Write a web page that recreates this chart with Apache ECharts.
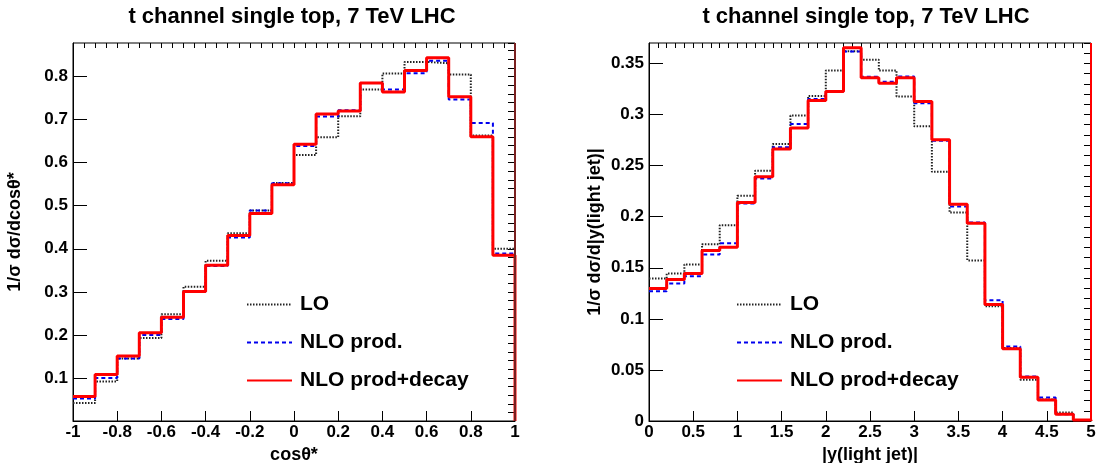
<!DOCTYPE html>
<html>
<head>
<meta charset="utf-8">
<script src="https://cdn.jsdelivr.net/npm/echarts@6/dist/echarts.min.js"></script>
<style>
html,body{margin:0;padding:0;background:#fff;}
#chart{width:1096px;height:463px;}
</style>
</head>
<body>
<div id="chart"></div>
<script>
// ---- Data ----
const seriesNames = ['LO', 'NLO prod.', 'NLO prod+decay'];
const titleText = 't channel single top, 7 TeV LHC';

// Left panel: cos(theta*) bins
const cosEdges = [-1, -0.9, -0.8, -0.7, -0.6, -0.5, -0.4, -0.3, -0.2, -0.1, 0, 0.1, 0.2, 0.3, 0.4, 0.5, 0.6, 0.7, 0.8, 0.9, 1];
const cosLO     = [0.042, 0.092, 0.145, 0.193, 0.248, 0.312, 0.372, 0.436, 0.489, 0.553, 0.618, 0.659, 0.708, 0.770, 0.807, 0.834, 0.831, 0.805, 0.663, 0.400];
const cosNLO    = [0.052, 0.100, 0.145, 0.200, 0.237, 0.300, 0.360, 0.426, 0.489, 0.552, 0.639, 0.707, 0.722, 0.785, 0.770, 0.808, 0.837, 0.747, 0.692, 0.389];
const cosNLOdec = [0.057, 0.108, 0.151, 0.205, 0.241, 0.301, 0.362, 0.431, 0.482, 0.549, 0.643, 0.713, 0.720, 0.785, 0.764, 0.814, 0.844, 0.753, 0.660, 0.385];

// Right panel: |y(light jet)| bins
const yEdges = [0, 0.2, 0.4, 0.6, 0.8, 1.0, 1.2, 1.4, 1.6, 1.8, 2.0, 2.2, 2.4, 2.6, 2.8, 3.0, 3.2, 3.4, 3.6, 3.8, 4.0, 4.2, 4.4, 4.6, 4.8, 5.0];
const yLO     = [0.1395, 0.1444, 0.1532, 0.1729, 0.1916, 0.2204, 0.2449, 0.2711, 0.2990, 0.3180, 0.3430, 0.3620, 0.3536, 0.3430, 0.3176, 0.2885, 0.2439, 0.2040, 0.1572, 0.1123, 0.0715, 0.0403, 0.0210, 0.0082, 0.0010];
const yNLO    = [0.1270, 0.1346, 0.1418, 0.1630, 0.1739, 0.2128, 0.2374, 0.2679, 0.2908, 0.3153, 0.3225, 0.3618, 0.3370, 0.3320, 0.3373, 0.3110, 0.2744, 0.2099, 0.1942, 0.1182, 0.0730, 0.0436, 0.0229, 0.0066, 0.0010];
const yNLOdec = [0.1297, 0.1385, 0.1444, 0.1670, 0.1700, 0.2138, 0.2390, 0.2662, 0.2868, 0.3137, 0.3225, 0.3654, 0.3360, 0.3307, 0.3360, 0.3127, 0.2754, 0.2122, 0.1935, 0.1140, 0.0707, 0.0429, 0.0206, 0.0066, 0.0010];

// ---- Build ----
const FONT = '"Liberation Sans", Arial, Helvetica, sans-serif';

function histData(edges, vals) {
  const d = [];
  for (let i = 0; i < vals.length; i++) d.push([edges[i], vals[i]]);
  d.push([edges[edges.length - 1], vals[vals.length - 1]]);
  d.push([edges[edges.length - 1], 0]);
  return d;
}

const styles = [
  { color: '#222', width: 2, type: [1.5, 1.5] },
  { color: '#0000ee', width: 2, type: [4, 3] },
  { color: '#ff0000', width: 3, type: 'solid' }
];

function mkSeries(gridIdx, edges, arrs, edgeColor) {
  return arrs.map((vals, k) => {
    const s = {
      name: seriesNames[k],
      type: 'line',
      step: 'end',
      xAxisIndex: gridIdx * 2,
      yAxisIndex: gridIdx * 2,
      symbol: 'none',
      animation: false,
      lineStyle: { color: styles[k].color, width: styles[k].width, type: styles[k].type },
      itemStyle: { color: styles[k].color },
      data: histData(edges, vals),
      z: 2 + k
    };
    if (k === 2) {
      s.markLine = {
        silent: true, symbol: 'none', animation: false,
        label: { show: false },
        lineStyle: { color: edgeColor, width: 2, type: 'solid' },
        data: [{ xAxis: edges[edges.length - 1] }]
      };
    }
    return s;
  });
}

const tickLabel = { fontFamily: FONT, fontWeight: 'bold', fontSize: 17, color: '#000' };

function mainX(gridIdx, min, max, interval, fmt, name) {
  return {
    type: 'value', gridIndex: gridIdx, min, max, interval,
    axisLine: { show: true, onZero: false, lineStyle: { color: '#000', width: 1 } },
    axisTick: { show: true, inside: true, length: 10, lineStyle: { color: '#000' } },
    axisLabel: Object.assign({ margin: 3, formatter: fmt }, tickLabel),
    splitLine: { show: false },
    name, nameLocation: 'middle', nameGap: 17,
    nameTextStyle: { fontFamily: FONT, fontWeight: 'bold', fontSize: 18, color: '#000' }
  };
}
function minorX(gridIdx, min, max, interval) {
  return {
    type: 'value', gridIndex: gridIdx, min, max, interval,
    axisLine: { show: false, onZero: false },
    axisTick: { show: true, inside: true, length: 5, lineStyle: { color: '#000' } },
    axisLabel: { show: false }, splitLine: { show: false }
  };
}
function mainY(gridIdx, min, max, interval, fmt, name, showMin, nameGap) {
  return {
    type: 'value', gridIndex: gridIdx, min, max, interval,
    axisLine: { show: true, onZero: false, lineStyle: { color: '#000', width: 1 } },
    axisTick: { show: true, inside: true, length: 14, lineStyle: { color: '#000' } },
    axisLabel: Object.assign({ margin: 5, formatter: fmt, showMinLabel: showMin, showMaxLabel: false }, tickLabel),
    splitLine: { show: false },
    name, nameLocation: 'middle', nameGap,
    nameTextStyle: { fontFamily: FONT, fontWeight: 'bold', fontSize: 18, color: '#000' }
  };
}
function minorY(gridIdx, min, max, interval) {
  return {
    type: 'value', gridIndex: gridIdx, min, max, interval,
    axisLine: { show: false, onZero: false },
    axisTick: { show: true, inside: true, length: 7, lineStyle: { color: '#000' } },
    axisLabel: { show: false }, splitLine: { show: false }
  };
}

const fmt1 = v => String(+v.toFixed(1));
const fmt2 = v => String(+v.toFixed(2));

const legendBase = {
  orient: 'vertical', top: 289, itemWidth: 45, itemHeight: 14, itemGap: 17,
  itemStyle: { color: 'transparent', borderColor: 'transparent', borderWidth: 0, opacity: 0 },
  textStyle: { fontFamily: FONT, fontWeight: 'bold', fontSize: 21, color: '#000', padding: [0, 0, 0, 3] },
  data: seriesNames, selectedMode: false
};

const gridBase = { top: 43, width: 442, height: 378, show: true, borderColor: '#000', borderWidth: 1, backgroundColor: 'transparent', containLabel: false, outerBoundsMode: 'none' };

const option = {
  backgroundColor: '#fff',
  animation: false,
  grid: [
    Object.assign({ left: 73 }, gridBase),
    Object.assign({ left: 649 }, gridBase)
  ],
  xAxis: [
    mainX(0, -1, 1, 0.2, fmt1, 'cosθ*'),
    minorX(0, -1, 1, 0.05),
    mainX(1, 0, 5, 0.5, fmt1, '|y(light jet)|'),
    minorX(1, 0, 5, 0.1)
  ],
  yAxis: [
    mainY(0, 0, 0.878, 0.1, fmt1, '1/σ dσ/dcosθ*', false, 49),
    minorY(0, 0, 0.878, 0.02),
    mainY(1, 0, 0.370, 0.05, fmt2, '1/σ dσ/d|y(light jet)|', true, 45),
    minorY(1, 0, 0.370, 0.01)
  ],
  legend: [
    Object.assign({}, legendBase, { left: 241 }),
    Object.assign({}, legendBase, { left: 731 })
  ],
  graphic: [
    { type: 'text', x: 292, y: 6, style: { text: titleText, font: 'bold 22px ' + FONT, textAlign: 'center', textVerticalAlign: 'top', fill: '#000' } },
    { type: 'text', x: 866, y: 6, style: { text: titleText, font: 'bold 22px ' + FONT, textAlign: 'center', textVerticalAlign: 'top', fill: '#000' } }
  ],
  series: [].concat(
    mkSeries(0, cosEdges, [cosLO, cosNLO, cosNLOdec], '#7a2020'),
    mkSeries(1, yEdges, [yLO, yNLO, yNLOdec], '#ff0000')
  )
};

const chart = echarts.init(document.getElementById('chart'), null, { renderer: 'canvas' });
chart.setOption(option);
</script>
</body>
</html>
